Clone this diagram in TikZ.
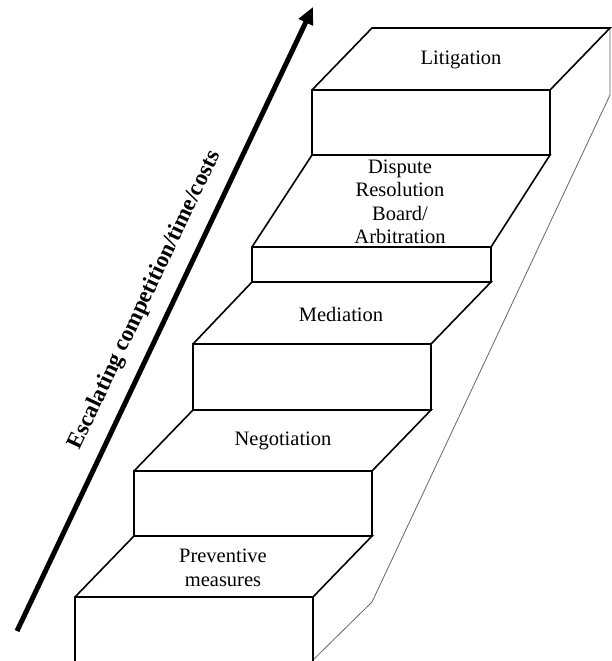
\documentclass[tikz,border=0pt]{standalone}
\usepackage{fontspec}
\setmainfont{Liberation Serif}
\usetikzlibrary{arrows.meta}
\tikzset{
  stepline/.style={line width=1.6pt, line join=miter, black},
  backline/.style={line width=0.8pt, gray!80!black},
  lbl/.style={font=\fontsize{20.5}{23.5}\selectfont, align=center, inner sep=0pt},
  bigarrow/.style={line width=5pt, -{Triangle[length=17pt,width=15pt]}},
  arrowlbl/.style={font=\fontsize{23}{26}\selectfont\bfseries, inner sep=0pt}
}
\begin{document}
\begin{tikzpicture}[x=1pt,y=-1pt]
\useasboundingbox (0,0) rectangle (611,661);
% back outline
\draw[backline] (610,28) -- (610,95) -- (372,602) -- (313,660);
% step 1
\draw[stepline] (75,661) -- (75,597) -- (313,597) -- (313,661);
\draw[stepline] (75,597) -- (134,536) -- (372,536) -- (313,597);
% step 2
\draw[stepline] (134,536) rectangle (372,471);
\draw[stepline] (134,471) -- (193,410) -- (431,410) -- (372,471);
% step 3
\draw[stepline] (193,410) rectangle (431,344);
\draw[stepline] (193,344) -- (252,282) -- (491,282) -- (431,344);
% step 4
\draw[stepline] (252,282) rectangle (491,247);
\draw[stepline] (252,247) -- (312,155) -- (550,155) -- (491,247);
% step 5
\draw[stepline] (312,155) rectangle (550,90);
\draw[stepline] (312,90) -- (372,28) -- (610,28) -- (550,90);
% labels
\node[lbl] (lit) at (461,60) {Litigation};
\node[lbl] (drb) at (400,202) {Dispute\\Resolution\\Board/\\Arbitration};
\node[lbl] (med) at (341,314) {Mediation};
\node[lbl] (neg) at (283,441) {Negotiation};
\node[lbl] (prev) at (223,568) {Preventive\\measures};
% arrow
\coordinate (atail) at (17,631);
\coordinate (ahead) at (313,7);
\draw[bigarrow] (atail) -- (ahead);
\node[arrowlbl, rotate=64.6] (esc) at (145,300) {Escalating competition/time/costs};
\end{tikzpicture}
\end{document}
